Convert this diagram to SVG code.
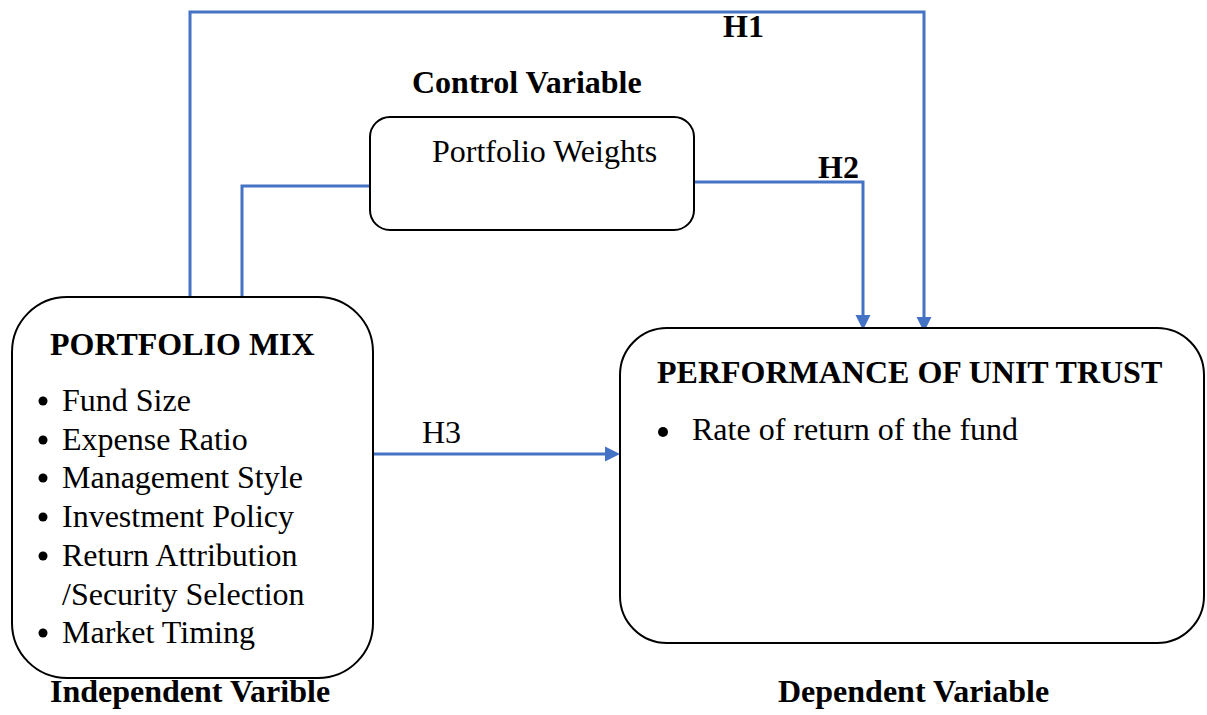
<svg xmlns="http://www.w3.org/2000/svg" width="1207" height="715" viewBox="0 0 1207 715">
  <style>
    .box { fill: #ffffff; stroke: #000000; stroke-width: 2; }
    .link { fill: none; stroke: #4472C4; stroke-width: 3; }
    .t { font-family: "Liberation Serif", "Times New Roman", serif; font-size: 32px; fill: #000000; }
    .b { font-weight: bold; }
    .dot { fill: #000000; }
  </style>
  <defs>
    <marker id="arrow" markerUnits="userSpaceOnUse" markerWidth="16" markerHeight="16" refX="7" refY="8" orient="auto">
      <path d="M0,0.5 L15,8 L0,15.5 z" fill="#4472C4"/>
    </marker>
  </defs>
  <rect width="1207" height="715" fill="#ffffff"/>

  <!-- connectors -->
  <g id="connectors">
    <!-- H1: portfolio mix to performance, over the top -->
    <path class="link" d="M190,297 V12 H924 V324" marker-end="url(#arrow)"/>
    <!-- portfolio mix to control variable -->
    <path class="link" d="M242,297 V186 H370"/>
    <!-- H2: control variable to performance -->
    <path class="link" d="M694,182 H863 V322" marker-end="url(#arrow)"/>
    <!-- H3: direct link -->
    <path class="link" d="M373,454 H612" marker-end="url(#arrow)"/>
    <text class="t b" x="723" y="37">H1</text>
    <text class="t b" x="818" y="178">H2</text>
    <text class="t" x="422" y="443">H3</text>
  </g>

  <!-- control variable -->
  <g id="control">
    <text class="t b" x="412" y="93">Control Variable</text>
    <rect class="box" x="370" y="117" width="324" height="113" rx="20" ry="20"/>
    <text class="t" x="432" y="162">Portfolio Weights</text>
  </g>

  <!-- independent variable -->
  <g id="portfolio-mix">
    <rect class="box" x="12" y="297" width="361" height="381" rx="55" ry="55"/>
    <text class="t b" x="50" y="355">PORTFOLIO MIX</text>
    <circle class="dot" cx="43" cy="401" r="4.5"/>
    <text class="t" x="62" y="411">Fund Size</text>
    <circle class="dot" cx="43" cy="440" r="4.5"/>
    <text class="t" x="62" y="450">Expense Ratio</text>
    <circle class="dot" cx="43" cy="478" r="4.5"/>
    <text class="t" x="62" y="488">Management Style</text>
    <circle class="dot" cx="43" cy="517" r="4.5"/>
    <text class="t" x="62" y="527">Investment Policy</text>
    <circle class="dot" cx="43" cy="556" r="4.5"/>
    <text class="t" x="62" y="566">Return Attribution</text>
    <text class="t" x="62" y="605">/Security Selection</text>
    <circle class="dot" cx="43" cy="633" r="4.5"/>
    <text class="t" x="62" y="643">Market Timing</text>
    <text class="t b" x="50" y="702">Independent Varible</text>
  </g>

  <!-- dependent variable -->
  <g id="performance">
    <rect class="box" x="620" y="328" width="584" height="315" rx="47" ry="47"/>
    <text class="t b" x="657" y="383">PERFORMANCE OF UNIT TRUST</text>
    <circle class="dot" cx="663" cy="432" r="5"/>
    <text class="t" x="692" y="440">Rate of return of the fund</text>
    <text class="t b" x="778" y="702">Dependent Variable</text>
  </g>
</svg>
